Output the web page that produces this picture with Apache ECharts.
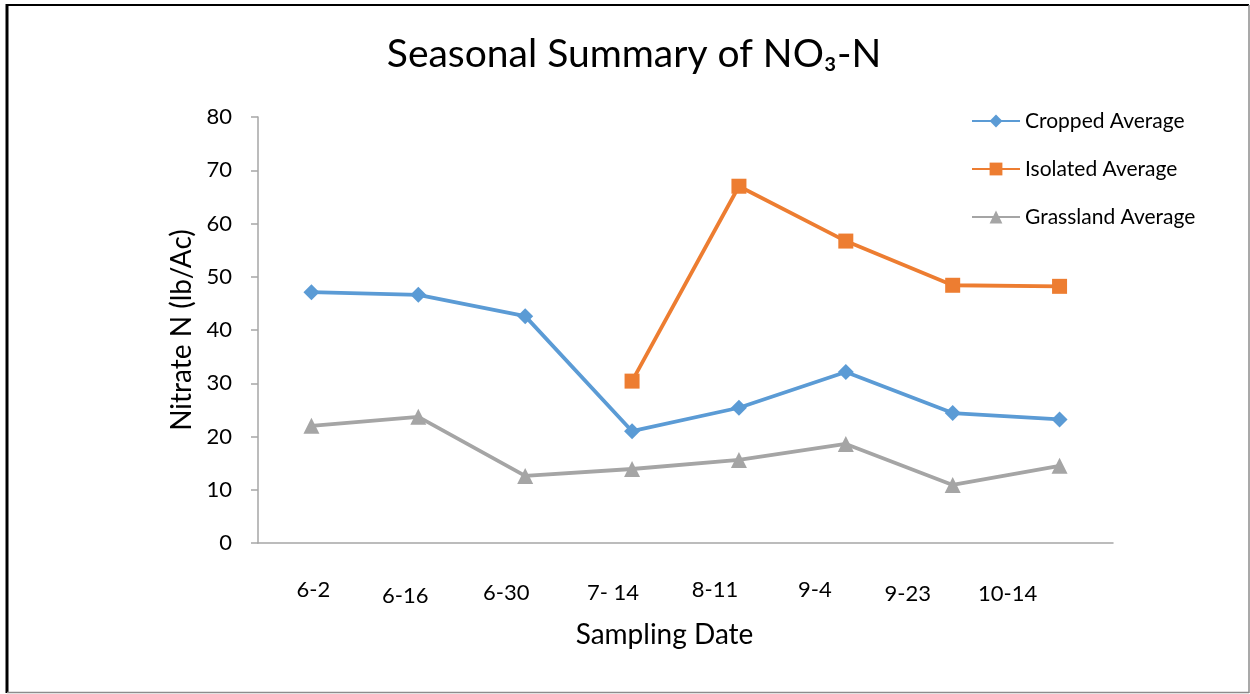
<!DOCTYPE html>
<html>
<head>
<meta charset="utf-8">
<script src="https://cdn.jsdelivr.net/npm/echarts@6/dist/echarts.min.js"></script>
<style>
html,body{margin:0;padding:0;background:#fff;}
#chart{width:1250px;height:694px;}
</style>
</head>
<body>
<div id="chart"></div>
<script>
// ---- data ----
const categories = ['6-2', '6-16', '6-30', '7- 14', '8-11', '9-4', '9-23', '10-14'];
const croppedAvg = [47.1, 46.6, 42.6, 21.0, 25.4, 32.1, 24.4, 23.2];
const isolatedAvg = [null, null, null, 30.4, 67.0, 56.7, 48.4, 48.2];
const grasslandAvg = [22.0, 23.7, 12.6, 13.9, 15.6, 18.6, 10.9, 14.5];
const yTicks = { min: 0, max: 80, interval: 10 };

// ---- layout-only label nudges (px) for the staggered category labels ----
const labelDx = [2, -13, -19, -19, -24, -31, -45, -52];
const labelDy = [0, 6, 3, 3, 0, 0, 4, 4];

const FONT = 'Lato, "Open Sans", sans-serif';
const rich = {};
categories.forEach((c, i) => {
  const dx = labelDx[i], dy = labelDy[i];
  rich['l' + i] = {
    fontFamily: FONT, fontSize: 22, color: '#000',
    padding: [dy, dx < 0 ? -2 * dx : 0, 0, dx > 0 ? 2 * dx : 0]
  };
});

const chart = echarts.init(document.getElementById('chart'));
chart.setOption({
  animation: false,
  backgroundColor: '#fff',
  title: {
    text: 'Seasonal Summary of NO\u2083-N',
    left: 629, top: 30, textAlign: 'center',
    textStyle: { fontFamily: FONT, fontSize: 39, fontWeight: 'normal', color: '#000' }
  },
  legend: {
    orient: 'vertical', left: 966, top: 104,
    itemWidth: 48, itemHeight: 16, itemGap: 24,
    textStyle: { fontFamily: FONT, fontSize: 21, color: '#000', lineHeight: 24 },
    data: ['Cropped Average', 'Isolated Average', 'Grassland Average']
  },
  grid: { left: 258, right: 137, top: 117, bottom: 151 },
  xAxis: {
    type: 'category', data: categories, boundaryGap: true,
    name: 'Sampling Date', nameLocation: 'middle', nameGap: 78,
    nameTextStyle: { fontFamily: FONT, fontSize: 28, color: '#000', padding: [0, 42, 0, 0] },
    axisLine: { lineStyle: { color: '#a6a6a6', width: 1.5 } },
    axisTick: { show: false },
    axisLabel: {
      margin: 36, interval: 0,
      formatter: (v, i) => '{l' + i + '|' + v + '}',
      rich: rich
    },
    splitLine: { show: false }
  },
  yAxis: {
    type: 'value', min: yTicks.min, max: yTicks.max, interval: yTicks.interval,
    name: 'Nitrate N (lb/Ac)', nameLocation: 'middle', nameGap: 62, nameRotate: 90,
    nameTextStyle: { fontFamily: FONT, fontSize: 28, color: '#000' },
    axisLine: { show: true, lineStyle: { color: '#a6a6a6', width: 1.5 } },
    axisTick: { show: true, inside: false, length: 7, lineStyle: { color: '#a6a6a6', width: 1.5 } },
    axisLabel: { margin: 26, fontFamily: FONT, fontSize: 22, color: '#000' },
    splitLine: { show: false }
  },
  series: [
    {
      name: 'Cropped Average', type: 'line', data: croppedAvg,
      symbol: 'diamond', symbolSize: 16,
      lineStyle: { color: '#5b9bd5', width: 3.8 },
      itemStyle: { color: '#5b9bd5' }
    },
    {
      name: 'Isolated Average', type: 'line', data: isolatedAvg,
      symbol: 'rect', symbolSize: 15, connectNulls: false,
      lineStyle: { color: '#ed7d31', width: 3.8 },
      itemStyle: { color: '#ed7d31' }
    },
    {
      name: 'Grassland Average', type: 'line', data: grasslandAvg,
      symbol: 'triangle', symbolSize: 16,
      lineStyle: { color: '#a5a5a5', width: 3.8 },
      itemStyle: { color: '#a5a5a5' }
    }
  ],
  graphic: [
    { type: 'line', shape: { x1: 7, y1: 4, x2: 7, y2: 693 }, style: { stroke: '#000', lineWidth: 3 }, z: 100 },
    { type: 'line', shape: { x1: 6, y1: 5, x2: 1249, y2: 5 }, style: { stroke: '#000', lineWidth: 2 }, z: 100 },
    { type: 'line', shape: { x1: 1249, y1: 5, x2: 1249, y2: 693 }, style: { stroke: '#8c8c8c', lineWidth: 1.5 }, z: 100 },
    { type: 'line', shape: { x1: 7, y1: 692.5, x2: 1249, y2: 692.5 }, style: { stroke: '#8c8c8c', lineWidth: 1.5 }, z: 100 }
  ]
});
</script>
</body>
</html>
